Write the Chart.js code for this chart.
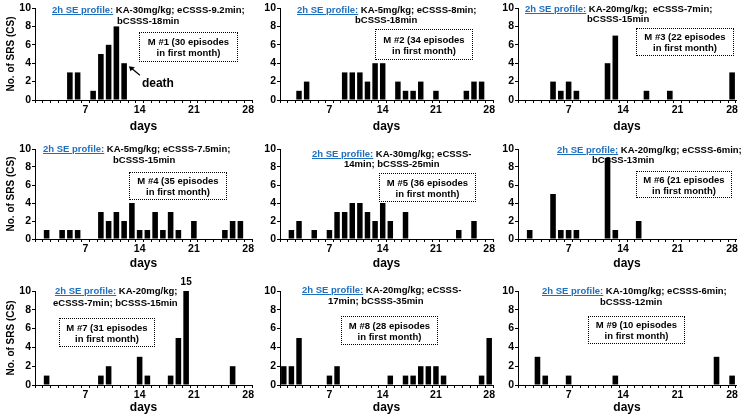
<!DOCTYPE html>
<html>
<head>
<meta charset="utf-8">
<script src="https://cdn.jsdelivr.net/npm/chart.js@4/dist/chart.umd.min.js"></script>
<style>
body { margin: 0; background: #fff; width: 742px; height: 416px; position: relative; overflow: hidden;
       font-family: Arial, "Liberation Sans", sans-serif; }
canvas { position: absolute; }
.prof { position: absolute; font-weight: bold; font-size: 9.5px; line-height: 12px; white-space: pre; color: #000; }
.prof u { color: #1f6fbf; }
.box { position: absolute; border: 1px dotted #000; box-sizing: border-box; font-weight: bold; font-size: 9.5px;
       line-height: 11px; text-align: center; display: flex; flex-direction: column; justify-content: center; }
</style>
</head>
<body>
<script>
// days after SE, one bar per day
var days = ['1','2','3','4','5','6','7','8','9','10','11','12','13','14',
            '15','16','17','18','19','20','21','22','23','24','25','26','27','28'];
var dayTicks = ['7', '14', '21', '28'];

// No. of SRS per day, mouse #1..#9
var m1 = [0,0,0,0,3,3,0,1,5,6,8,4,0,0,0,0,0,0,0,0,0,0,0,0,0,0,0,0];
var m2 = [0,0,1,2,0,0,0,0,3,3,3,2,4,4,0,2,1,1,2,0,1,0,0,0,1,2,2,0];
var m3 = [0,0,0,0,2,1,2,1,0,0,0,4,7,0,0,0,1,0,0,1,0,0,0,0,0,0,0,3];
var m4 = [0,1,0,1,1,1,0,0,3,2,3,2,4,1,1,3,1,3,1,0,2,0,0,0,1,2,2,0];
var m5 = [0,1,2,0,1,0,1,3,3,4,4,3,2,4,2,0,3,0,0,0,0,0,0,1,0,2,0,0];
var m6 = [0,1,0,0,5,1,1,1,0,0,0,9,1,0,0,2,0,0,0,0,0,0,0,0,0,0,0,0];
var m7 = [0,1,0,0,0,0,0,0,1,2,0,0,0,3,1,0,0,1,5,15,0,0,0,0,0,2,0,0];
var m8 = [2,2,5,0,0,0,1,2,0,0,0,0,0,0,1,0,1,1,2,2,2,1,0,0,0,0,1,5];
var m9 = [0,0,3,1,0,0,1,0,0,0,0,0,1,0,0,0,0,0,0,0,0,0,0,0,0,3,0,1];

var profiles = [
  ['2h SE profile:', ' KA-30mg/kg; eCSSS-9.2min;', 'bCSSS-18min'],
  ['2h SE profile:', ' KA-5mg/kg; eCSSS-8min;', 'bCSSS-18min'],
  ['2h SE profile:', ' KA-20mg/kg;  eCSSS-7min;', 'bCSSS-15min'],
  ['2h SE profile:', ' KA-5mg/kg; eCSSS-7.5min;', 'bCSSS-15min'],
  ['2h SE profile:', ' KA-30mg/kg; eCSSS-', '14min; bCSSS-25min'],
  ['2h SE profile;', ' KA-20mg/kg; eCSSS-6min;', 'bCSSS-13min'],
  ['2h SE profile:', ' KA-20mg/kg;', 'eCSSS-7min; bCSSS-15min'],
  ['2h SE profile:', ' KA-20mg/kg; eCSSS-', '17min; bCSSS-35min'],
  ['2h SE profile:', ' KA-10mg/kg; eCSSS-6min;', 'bCSSS-12min']
];
var episodes = [30, 34, 22, 35, 36, 21, 31, 28, 10];

// layout of the 3x3 grid
var cols = [{left: 0, w: 258, padR: 6}, {left: 245, w: 253, padR: 5}, {left: 483, w: 259, padR: 6}];
var rows = [{top: 0, h: 135, padT: 8, xh: 35}, {top: 141, h: 131, padT: 8, xh: 33}, {top: 275, h: 141, padT: 16, xh: 31}];
// [line1 x, line1 y, line2 x, line2 y, box x, box y, box w, box h]
var notes = [
  [52, 10, 117, 21, 139, 32, 99, 30],
  [297, 10, 355, 20, 375, 29, 98, 31],
  [525, 9, 587, 19, 636, 28, 98, 28],
  [43, 149, 113, 160, 129, 172, 98, 28],
  [312, 154, 344, 164, 379, 173, 97, 29],
  [557, 150, 592, 160, 636, 171, 96, 27],
  [55, 291, 53, 303, 59, 318, 96, 29],
  [302, 290, 328, 301, 341, 316, 97, 29],
  [542, 291, 600, 302, 588, 316, 97, 28]
];

Chart.defaults.font.family = 'Arial, "Liberation Sans", sans-serif';
Chart.defaults.color = '#000';

var deathPlugin = {
  id: 'death',
  afterDatasetsDraw: function(chart) {
    var ctx = chart.ctx;
    var meta = chart.getDatasetMeta(0).data[11];
    var tx = meta.x + meta.width / 2 + 2, ty = meta.y + 3;
    ctx.save();
    ctx.strokeStyle = '#000'; ctx.fillStyle = '#000'; ctx.lineWidth = 1.2;
    ctx.beginPath(); ctx.moveTo(tx + 11, ty + 9); ctx.lineTo(tx + 2, ty + 1.5); ctx.stroke();
    ctx.beginPath(); ctx.moveTo(tx, ty); ctx.lineTo(tx + 6, ty + 1); ctx.lineTo(tx + 1.5, ty + 5); ctx.closePath(); ctx.fill();
    ctx.font = 'bold 12px Arial, "Liberation Sans", sans-serif';
    ctx.textBaseline = 'middle'; ctx.textAlign = 'left';
    ctx.fillText('death', tx + 13, ty + 17);
    ctx.restore();
  }
};

var overPlugin = {
  id: 'over',
  afterDatasetsDraw: function(chart) {
    var ctx = chart.ctx;
    var vals = chart.data.datasets[0].data;
    ctx.save();
    ctx.font = 'bold 10px Arial, "Liberation Sans", sans-serif';
    ctx.textAlign = 'center'; ctx.textBaseline = 'middle'; ctx.fillStyle = '#000';
    vals.forEach(function(v, i) {
      if (v > 10) {
        var x = chart.scales.x.getPixelForValue(i);
        ctx.fillText(String(v), x, chart.chartArea.top - 9);
      }
    });
    ctx.restore();
  }
};

function makePanel(values, n, plugins)
{
  var c = cols[n % 3], r = rows[Math.floor(n / 3)];
  var cv = document.createElement('canvas');
  cv.width = c.w; cv.height = r.h;
  cv.style.left = c.left + 'px'; cv.style.top = r.top + 'px';
  document.body.appendChild(cv);
  new Chart(cv, {
    type: 'bar',
    data: {
      labels: days,
      datasets: [{
        data: values,
        backgroundColor: '#000',
        borderWidth: 0,
        barPercentage: 0.72,
        categoryPercentage: 1,
        clip: 0
      }]
    },
    plugins: plugins || [],
    options: {
      responsive: false,
      animation: false,
      devicePixelRatio: 1,
      layout: { padding: { top: r.padT, right: c.padR, left: 0, bottom: 0 } },
      plugins: { legend: { display: false }, tooltip: { enabled: false } },
      scales: {
        x: {
          offset: true,
          grid: { display: true, offset: true, drawOnChartArea: false, drawTicks: true, tickLength: 3, color: '#000', lineWidth: 1 },
          border: { display: true, color: '#000', width: 1 },
          ticks: {
            autoSkip: false, maxRotation: 0, minRotation: 0, padding: 1,
            font: { size: 10.5, weight: 'bold' },
            callback: function(v) {
              var l = this.getLabelForValue(v);
              return dayTicks.indexOf(l) >= 0 ? l : '';
            }
          },
          title: { display: true, text: 'days', font: { size: 12, weight: 'bold' }, padding: { top: 0, bottom: 1 } },
          afterFit: function(s) { s.height = r.xh; }
        },
        y: {
          min: 0, max: 10,
          ticks: { stepSize: 2, padding: 1, font: { size: 10.5, weight: 'bold' } },
          grid: { drawOnChartArea: false, tickLength: 3, color: '#000' },
          border: { color: '#000', width: 1 },
          title: { display: n % 3 === 0, text: 'No. of SRS (CS)', font: { size: 10, weight: 'bold' }, padding: { top: 5, bottom: 0 } },
          afterFit: function(s) { s.width = 35; }
        }
      }
    }
  });

  // text notes over the panel
  var p = profiles[n], nt = notes[n];
  var l1 = document.createElement('div');
  l1.className = 'prof';
  l1.style.left = nt[0] + 'px'; l1.style.top = (nt[1] - 6) + 'px';
  l1.innerHTML = '<u>' + p[0] + '</u>' + p[1];
  document.body.appendChild(l1);
  var l2 = document.createElement('div');
  l2.className = 'prof';
  l2.style.left = nt[2] + 'px'; l2.style.top = (nt[3] - 6) + 'px';
  l2.textContent = p[2];
  document.body.appendChild(l2);
  var bx = document.createElement('div');
  bx.className = 'box';
  bx.style.left = nt[4] + 'px'; bx.style.top = nt[5] + 'px';
  bx.style.width = nt[6] + 'px'; bx.style.height = nt[7] + 'px';
  bx.innerHTML = '<div>M #' + (n + 1) + ' (' + episodes[n] + ' episodes</div><div>in first month)</div>';
  document.body.appendChild(bx);
}

makePanel(m1, 0, [deathPlugin]);
makePanel(m2, 1);
makePanel(m3, 2);
makePanel(m4, 3);
makePanel(m5, 4);
makePanel(m6, 5);
makePanel(m7, 6, [overPlugin]);
makePanel(m8, 7);
makePanel(m9, 8);
</script>
</body>
</html>
